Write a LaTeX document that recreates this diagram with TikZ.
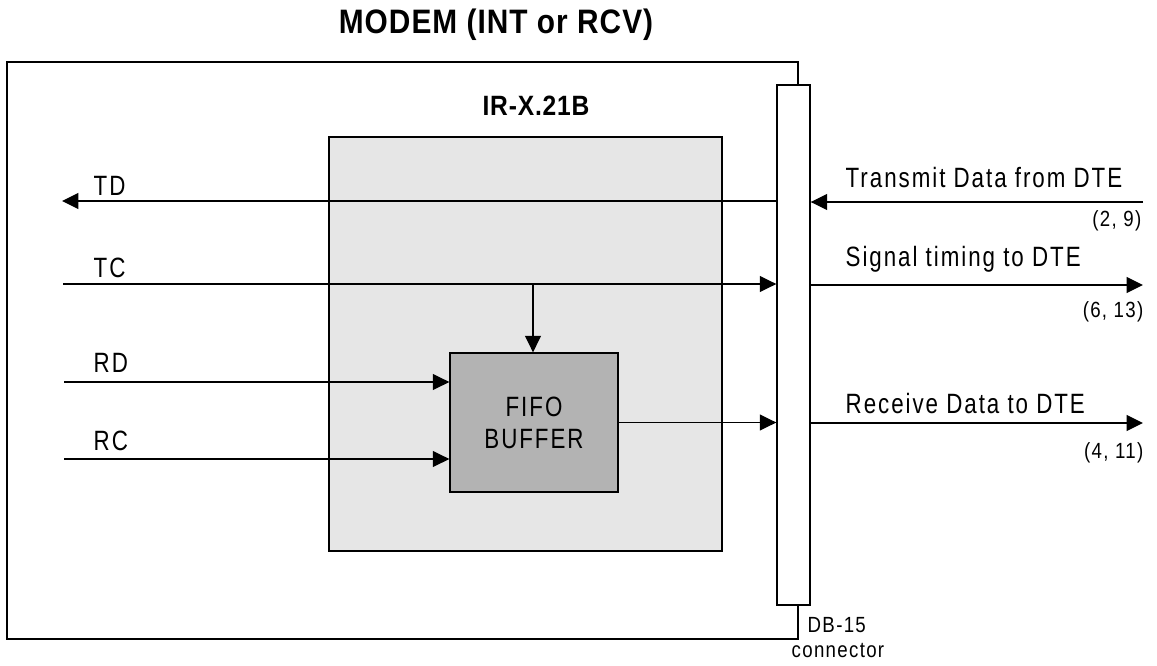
\documentclass[tikz,border=0pt]{standalone}
\usepackage{fontspec}
\setmainfont{Liberation Sans}
\newfontfamily\narrowfont[FakeStretch=0.8,LetterSpace=7]{Liberation Sans}
\newfontfamily\pinfont[FakeStretch=0.85,LetterSpace=6]{Liberation Sans}
\newfontfamily\headfont[FakeStretch=0.88,LetterSpace=3]{Liberation Sans}
\usetikzlibrary{arrows.meta,positioning}
\definecolor{chipgray}{HTML}{E6E6E6}
\definecolor{fifogray}{HTML}{B3B3B3}

\begin{document}
\begin{tikzpicture}[
  x=0.02cm, y=-0.02cm,
  line width=0.8pt,
  sig/.style={font=\narrowfont\fontsize{15.9}{18.1}\selectfont, inner sep=0pt},
  pins/.style={font=\pinfont\fontsize{12.5}{14}\selectfont, inner sep=0pt},
  heading/.style={font=\headfont\bfseries\fontsize{19.3}{22}\selectfont, inner sep=0pt},
  chip/.style={draw, fill=chipgray, minimum width=7.86cm, minimum height=8.28cm},
  fifobox/.style={draw, fill=fifogray, align=center, minimum width=3.36cm, minimum height=2.78cm,
    font=\narrowfont\fontsize{15.9}{18.1}\selectfont},
  conn/.style={draw, fill=white, minimum width=0.66cm, minimum height=10.4cm},
  arrow/.style={-{Triangle[length=3.3mm, width=3.2mm]}}
]
\useasboundingbox (0,0) rectangle (1157,666);

\node[heading, anchor=base] (title) at (496,33) {MODEM (INT or RCV)};

% modem outline
\draw (798,85) -- (798,62) -- (7,62) -- (7,639) -- (798,639) -- (798,605);

\node[chip] (board) at (525.5,344) {};
\node[heading, font=\headfont\bfseries\fontsize{15.9}{18}\selectfont, anchor=base] (boardname) at (536,115) {IR-X.21B};
\node[fifobox] (fifo) at (534,422.5) {FIFO\\BUFFER};
\node[conn] (dbconn) at (793.5,345) {};

% signal ends
\coordinate (tdend) at (62,201);
\coordinate (tcin) at (63,284);
\coordinate (rdin) at (64,382);
\coordinate (rcin) at (64,459);
\coordinate (txin) at (1143,202);
\coordinate (stout) at (1143,285);
\coordinate (rxout) at (1143,423);
\coordinate (tap) at (533,284);

% modem side
\draw[arrow] (dbconn.west |- tdend) -- (tdend);
\draw[arrow] (tcin) -- (dbconn.west |- tcin);
\draw[arrow] (tap) -- (tap |- fifo.north);
\draw[arrow] (rdin) -- (fifo.west |- rdin);
\draw[arrow] (rcin) -- (fifo.west |- rcin);
\draw[arrow] (fifo.east) -- (dbconn.west |- fifo.east);

\node[sig, anchor=base west] (tdlbl) at (93,195) {TD};
\node[sig, anchor=base west] (tclbl) at (93,277) {TC};
\node[sig, anchor=base west] (rdlbl) at (93,372) {RD};
\node[sig, anchor=base west] (rclbl) at (93,450) {RC};

% DTE side
\draw[arrow] (txin) -- (dbconn.east |- txin);
\draw[arrow] (dbconn.east |- stout) -- (stout);
\draw[arrow] (dbconn.east |- rxout) -- (rxout);

\node[sig, anchor=base west] (txlbl) at (845,187) {Transmit Data from DTE};
\node[pins, anchor=base east] (txpins) at (1142,226) {(2, 9)};
\node[sig, anchor=base west] (stlbl) at (845,266) {Signal timing to DTE};
\node[pins, anchor=base east] (stpins) at (1144,317) {(6, 13)};
\node[sig, anchor=base west] (rxlbl) at (845,413) {Receive Data to DTE};
\node[pins, anchor=base east] (rxpins) at (1144,458) {(4, 11)};

\node[pins, anchor=base west] (dbname) at (807,632) {DB-15};
\node[pins, anchor=base west] (dbnote) at (791,657) {connector};

\end{tikzpicture}
\end{document}
